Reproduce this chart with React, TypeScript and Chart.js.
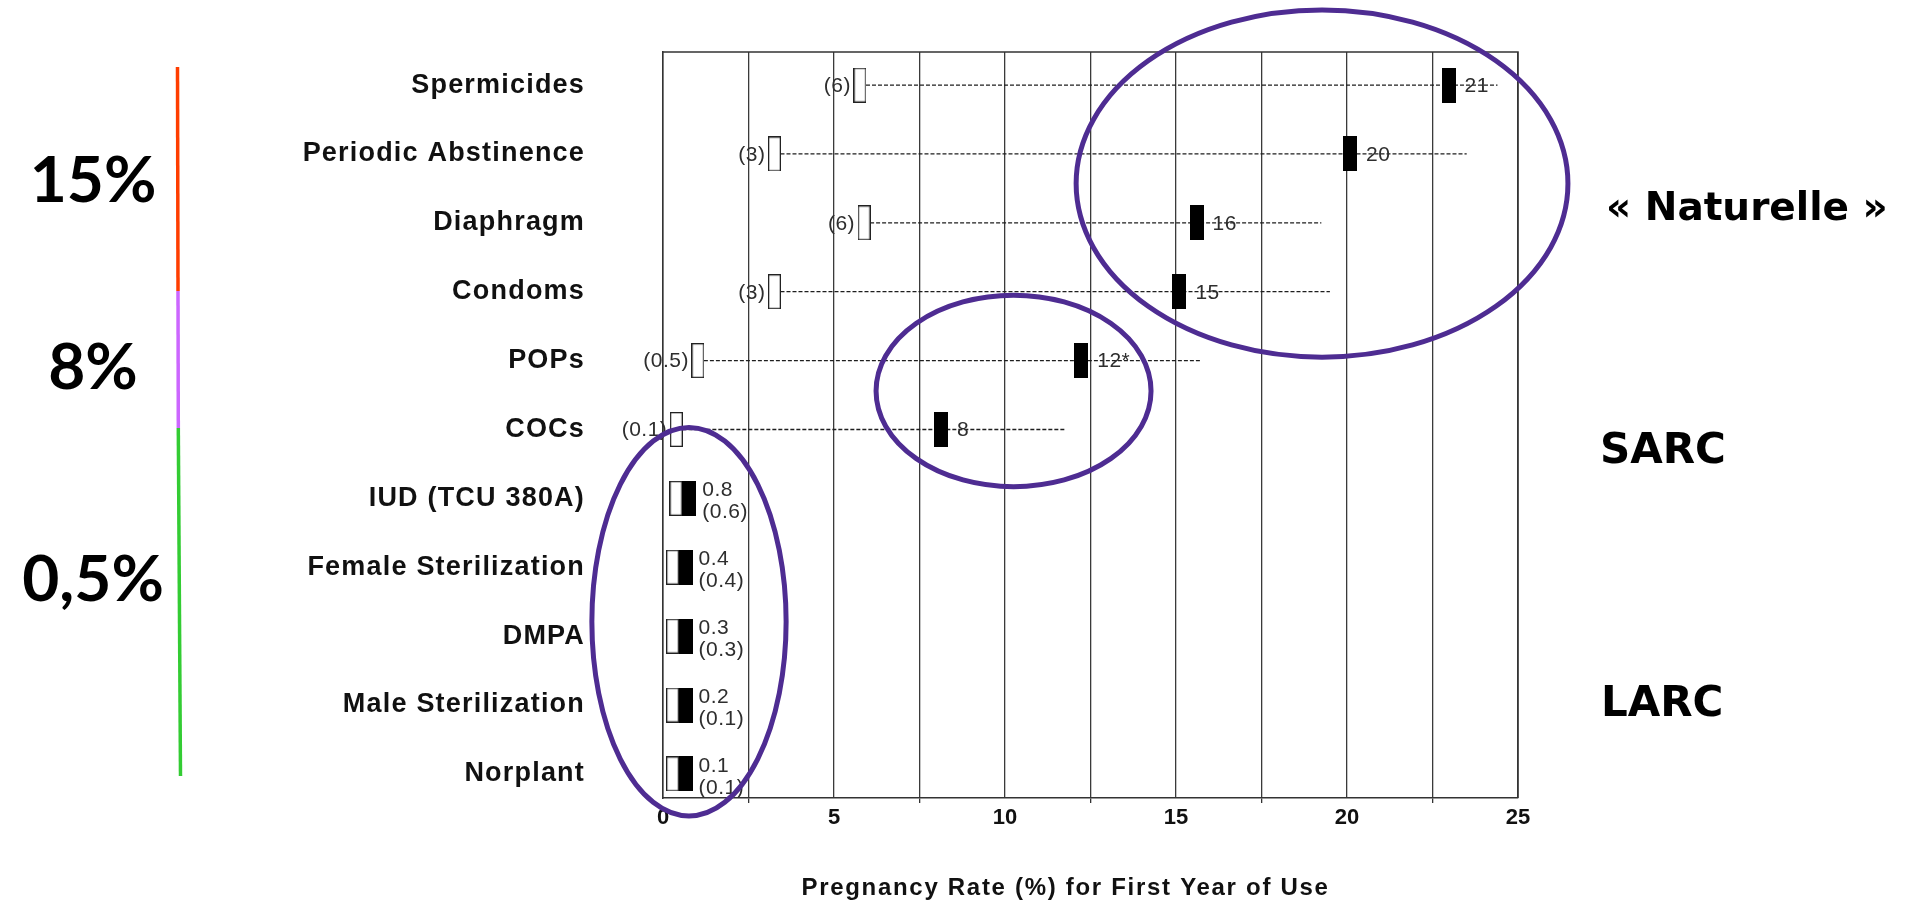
import React, { useEffect, useRef } from 'react';
import { Chart, registerables } from 'chart.js';

Chart.register(...registerables);

// ---------- data ----------
const methods = [
  'Spermicides',
  'Periodic Abstinence',
  'Diaphragm',
  'Condoms',
  'POPs',
  'COCs',
  'IUD (TCU 380A)',
  'Female Sterilization',
  'DMPA',
  'Male Sterilization',
  'Norplant',
];
// typical-use pregnancy rate (label values)
const typicalUse = [21, 20, 16, 15, 12, 8, 0.8, 0.4, 0.3, 0.2, 0.1];
const typicalNotes = ['', '', '', '', '*', '', '', '', '', '', ''];
// perfect-use pregnancy rate (label values, shown in parentheses)
const perfectUse = [6, 3, 6, 3, 0.5, 0.1, 0.6, 0.4, 0.3, 0.1, 0.1];
// where the marks sit on the axis
const typicalMarkX = [22.97, 20.09, 15.6, 15.1, 12.23, 8.13, 0.77, 0.66, 0.66, 0.66, 0.66];
const perfectMarkX = [5.76, 3.26, 5.88, 3.26, 1.02, 0.39, 0.38, 0.28, 0.28, 0.28, 0.28];
// end of the dashed range line
const rangeEnd: (number | null)[] = [24.4, 23.5, 19.25, 19.5, 15.7, 11.75, null, null, null, null, null];

const xTickLabels = [0, 5, 10, 15, 20, 25];
const xTitle = 'Pregnancy Rate (%) for First Year of Use';
const groupRates = ['15%', '8%', '0,5%'];
const groupNames = ['« Naturelle »', 'SARC', 'LARC'];

const BASE_FONT = '"Liberation Sans", Arial, Helvetica, sans-serif';

function makeBox(w: number, h: number, filled: boolean) {
  const c = document.createElement('canvas');
  c.width = w;
  c.height = h;
  const g = c.getContext('2d')!;
  if (filled) {
    g.fillStyle = '#000';
    g.fillRect(0, 0, w, h);
  } else {
    g.fillStyle = '#fff';
    g.fillRect(0, 0, w, h);
    g.strokeStyle = '#222';
    g.lineWidth = 1.3;
    g.strokeRect(0.65, 0.65, w - 1.3, h - 1.3);
  }
  return c;
}

function wrap(obj: any, method: string, fn: (orig: Function, self: any, args: any[]) => any) {
  const orig = obj[method];
  obj[method] = function (...args: any[]) {
    return fn(orig, this, args);
  };
}

const spacingPlugin = {
  id: 'spacing',
  beforeDraw(chart: any) {
    const { x, y } = chart.scales;
    if (y && !y.__wrapped) {
      y.__wrapped = true;
      wrap(y, 'drawLabels', (orig, self, args) => {
        const c = self.ctx;
        const prev = c.letterSpacing;
        c.letterSpacing = '1.2px';
        const r = orig.apply(self, args);
        c.letterSpacing = prev || '0px';
        return r;
      });
    }
    if (x && !x.__wrapped) {
      x.__wrapped = true;
      wrap(x, 'drawTitle', (orig, self, args) => {
        const c = self.ctx;
        c.save();
        c.letterSpacing = '1.7px';
        c.translate(-25, 0);
        const r = orig.apply(self, args);
        c.restore();
        return r;
      });
    }
  },
};

const framePlugin = {
  id: 'frame',
  beforeDatasetsDraw(chart: any) {
    const { ctx, chartArea: a } = chart;
    ctx.save();
    ctx.strokeStyle = '#333';
    ctx.lineWidth = 1.5;
    ctx.beginPath();
    ctx.moveTo(a.left, a.top);
    ctx.lineTo(a.right, a.top);
    ctx.lineTo(a.right, a.bottom);
    ctx.stroke();
    ctx.restore();
  },
};

const markLabelPlugin = {
  id: 'markLabels',
  afterDatasetsDraw(chart: any) {
    const { ctx, scales } = chart;
    const { x, y } = scales;
    ctx.save();
    ctx.font = '21px ' + BASE_FONT;
    ctx.letterSpacing = '0.5px';
    ctx.fillStyle = '#2e2e2e';
    ctx.textBaseline = 'middle';
    methods.forEach((_, i) => {
      const py = y.getPixelForValue(i);
      const tx = x.getPixelForValue(typicalMarkX[i]);
      const px = x.getPixelForValue(perfectMarkX[i]);
      const tLabel = `${typicalUse[i]}${typicalNotes[i]}`;
      const pLabel = `(${perfectUse[i]})`;
      if (rangeEnd[i] != null) {
        ctx.textAlign = 'right';
        ctx.fillText(pLabel, px - 9, py + 1);
        ctx.textAlign = 'left';
        ctx.fillText(tLabel, tx + 16, py + 1);
      } else {
        ctx.textAlign = 'left';
        ctx.fillText(tLabel, tx + 13, py - 8);
        ctx.fillText(pLabel, tx + 13, py + 14);
      }
    });
    ctx.restore();
  },
};

// annotation ellipses in data units (x value, row index)
const ellipses = [
  { cx: 19.27, cy: 1.43, rx: 7.19, ry: 2.52 },
  { cx: 10.25, cy: 4.44, rx: 4.02, ry: 1.39 },
  { cx: 0.76, cy: 7.79, rx: 2.84, ry: 2.82 },
];

const annotationPlugin = {
  id: 'annotations',
  afterDraw(chart: any) {
    const { ctx, scales } = chart;
    const { x, y } = scales;
    ctx.save();
    // purple ellipses
    ctx.strokeStyle = '#4e2c92';
    ctx.lineWidth = 5;
    ellipses.forEach((e) => {
      const cx = x.getPixelForValue(e.cx);
      const cy = y.getPixelForValue(e.cy);
      const rx = Math.abs(x.getPixelForValue(e.cx + e.rx) - cx);
      const ry = Math.abs(y.getPixelForValue(e.cy + e.ry) - cy);
      ctx.beginPath();
      ctx.ellipse(cx, cy, rx, ry, 0, 0, Math.PI * 2);
      ctx.stroke();
    });

    // coloured group bar on the left
    const segs = [
      { from: 67, to: 291, x0: 177.5, x1: 178, color: '#ff3d00' },
      { from: 291, to: 428, x0: 178, x1: 178.3, color: '#cc66ff' },
      { from: 428, to: 776, x0: 178.3, x1: 180.5, color: '#33cc33' },
    ];
    ctx.lineWidth = 3.5;
    segs.forEach((s) => {
      ctx.strokeStyle = s.color;
      ctx.beginPath();
      ctx.moveTo(s.x0, s.from);
      ctx.lineTo(s.x1, s.to);
      ctx.stroke();
    });

    // group rates
    ctx.fillStyle = '#000';
    ctx.textAlign = 'center';
    ctx.textBaseline = 'alphabetic';
    ctx.font = 'bold 64px Lato, "Open Sans", sans-serif';
    const rateBase = [202, 389, 601];
    groupRates.forEach((t, i) => ctx.fillText(t, 93, rateBase[i]));

    // group names on the right
    ctx.textAlign = 'left';
    ctx.font = 'bold 39px "DejaVu Sans", sans-serif';
    ctx.fillText(groupNames[0], 1606, 220);
    ctx.font = 'bold 42px "DejaVu Sans", sans-serif';
    ctx.fillText(groupNames[1], 1600, 463);
    ctx.fillText(groupNames[2], 1601, 716);
    ctx.restore();
  },
};

export default function App() {
  const ref = useRef<HTMLCanvasElement>(null);

  useEffect(() => {
    const canvas = ref.current!;
    const openBox = makeBox(13, 35, false);
    const solidBox = makeBox(14, 35, true);

    const rows = methods.map((_, i) => i);
    const lineSets: any[] = rows
      .filter((i) => rangeEnd[i] != null)
      .map((i) => ({
        type: 'line',
        data: [
          { x: perfectMarkX[i], y: i },
          { x: rangeEnd[i] as number, y: i },
        ],
        borderColor: '#1e1e1e',
        borderWidth: 1.3,
        borderDash: [4, 2],
        pointRadius: 0,
        showLine: true,
        fill: false,
        order: 5,
      }));

    const chart = new Chart(canvas, {
      type: 'scatter',
      data: {
        datasets: [
          {
            label: 'Typical use',
            data: rows.map((i) => ({ x: typicalMarkX[i], y: i })),
            pointStyle: solidBox as any,
            pointRadius: 7,
            order: 0,
          },
          {
            label: 'Perfect use',
            data: rows.map((i) => ({ x: perfectMarkX[i], y: i })),
            pointStyle: openBox as any,
            pointRadius: 7,
            order: 1,
          },
          ...lineSets,
        ],
      },
      options: {
        animation: false,
        responsive: true,
        maintainAspectRatio: false,
        events: [],
        layout: { padding: { top: 52, right: 400, bottom: 0, left: 0 } },
        plugins: {
          legend: { display: false },
          tooltip: { enabled: false },
        },
        scales: {
          x: {
            type: 'linear',
            min: 0,
            max: 25,
            afterFit: (s: any) => {
              s.height = 107;
              s.paddingLeft = 0;
              s.paddingRight = 0;
            },
            ticks: {
              stepSize: 2.5,
              autoSkip: false,
              maxRotation: 0,
              padding: 2,
              color: '#111',
              font: { family: BASE_FONT, size: 22, weight: 'bold' },
              callback: (v: any) => (xTickLabels.includes(Number(v)) ? String(v) : ''),
            },
            grid: {
              color: '#3a3a3a',
              lineWidth: 1.3,
              drawTicks: true,
              tickLength: 5,
              tickWidth: 1.3,
              tickColor: (c: any) =>
                c.tick && Number(c.tick.value) % 5 !== 0 ? '#333' : 'rgba(0,0,0,0)',
            },
            border: { display: true, color: '#333', width: 1.5 },
            title: {
              display: true,
              text: xTitle,
              color: '#111',
              font: { family: BASE_FONT, size: 24, weight: 'bold' },
              padding: { top: 0, bottom: 2 },
            },
          },
          y: {
            type: 'linear',
            reverse: true,
            min: -0.48,
            max: 10.35,
            afterBuildTicks: (s: any) => {
              s.ticks = methods.map((_, i) => ({ value: i }));
            },
            afterFit: (s: any) => {
              s.width = 663;
              s.paddingTop = 0;
              s.paddingBottom = 0;
            },
            ticks: {
              autoSkip: false,
              padding: 78,
              color: '#111',
              font: { family: BASE_FONT, size: 27, weight: 'bold' },
              callback: (v: any) => methods[Number(v)] ?? '',
            },
            grid: { display: false, drawTicks: false },
            border: { display: true, color: '#333', width: 1.5 },
          },
        },
      },
      plugins: [spacingPlugin, framePlugin, markLabelPlugin, annotationPlugin],
    } as any);

    return () => chart.destroy();
  }, []);

  return (
    <div
      style={{
        position: 'fixed',
        left: 0,
        top: 0,
        width: '1918px',
        height: '905px',
        background: '#fff',
      }}
    >
      <canvas ref={ref} />
    </div>
  );
}
